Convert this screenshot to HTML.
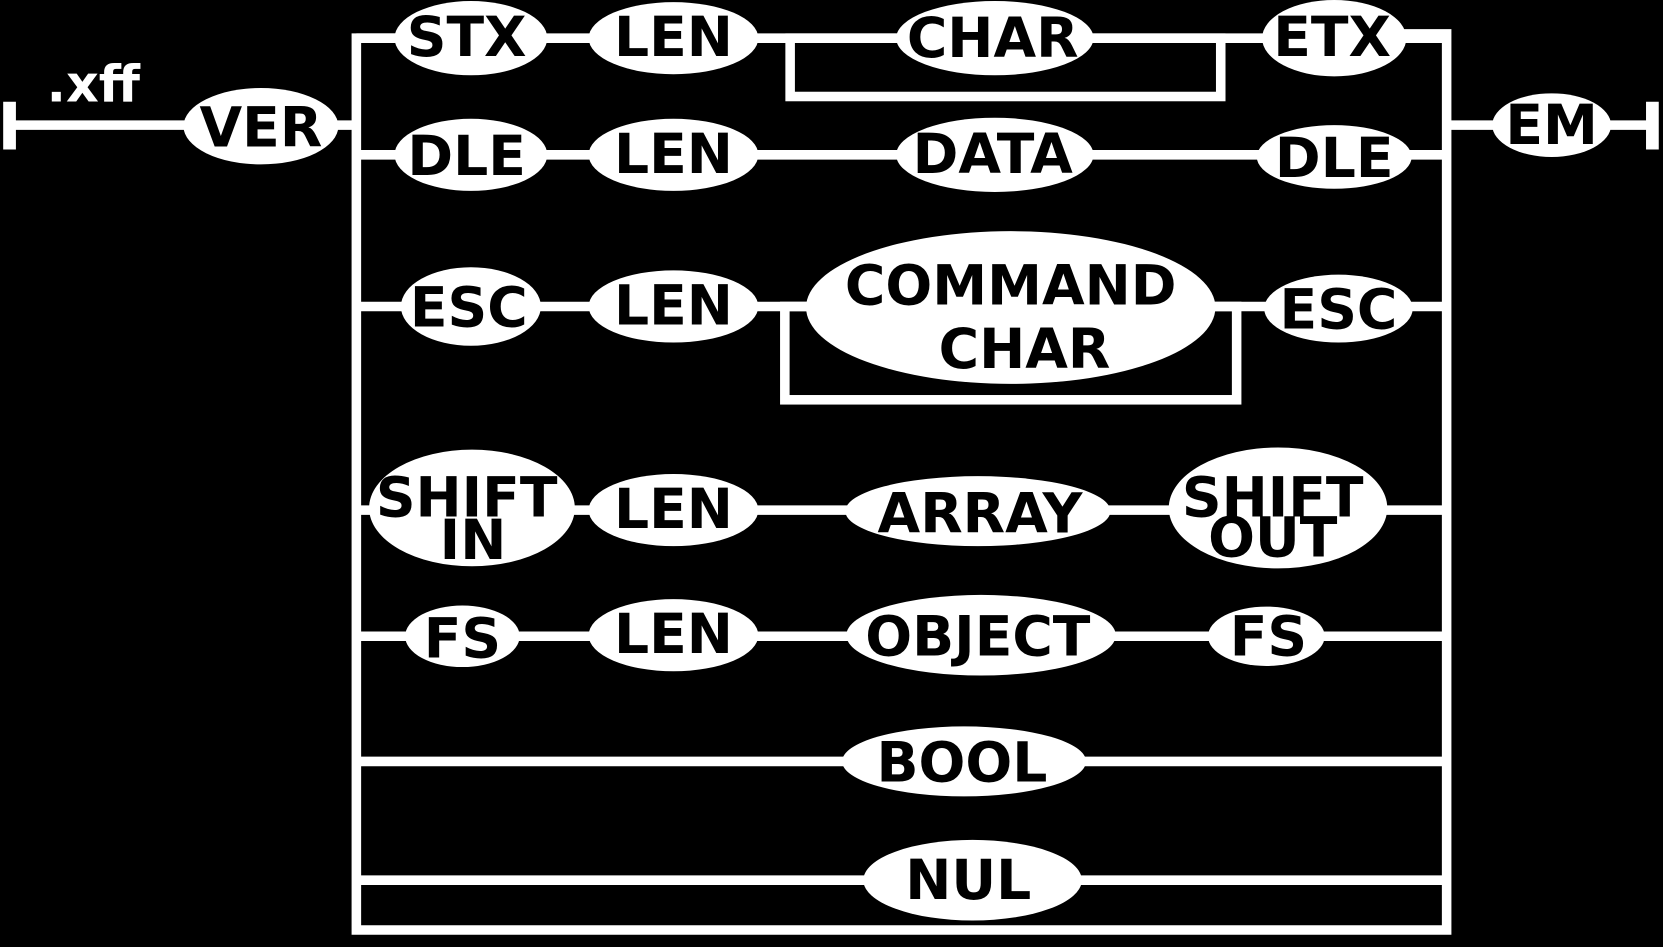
<!DOCTYPE html>
<html><head><meta charset="utf-8"><style>
html,body{margin:0;padding:0;background:#000;width:1663px;height:947px;overflow:hidden}
svg{display:block}
text{font-family:"DejaVu Sans","Liberation Sans",sans-serif;font-weight:bold;fill:#000;text-anchor:middle;dominant-baseline:central}
</style></head><body>
<svg width="1663" height="947" viewBox="0 0 1568 893" preserveAspectRatio="none" xmlns="http://www.w3.org/2000/svg">
<rect width="1568" height="893" fill="#000"/>
<g stroke="#fff" stroke-width="9" fill="none">
<line x1="9" y1="96" x2="9" y2="141" stroke-width="12"/>
<line x1="1558" y1="96" x2="1558" y2="141" stroke-width="12"/>
<line x1="9" y1="118" x2="336" y2="118"/>
<line x1="1364" y1="118" x2="1558" y2="118"/>
<polyline points="380,36 336,36 336,877 1364,877 1364,32 1320,32"/>
<line x1="336" y1="36" x2="1364" y2="36"/>
<rect x="745" y="36" width="406" height="55"/>
<line x1="336" y1="146" x2="1364" y2="146"/>
<line x1="336" y1="289" x2="1364" y2="289"/>
<rect x="740" y="289" width="426" height="88"/>
<line x1="336" y1="481" x2="1364" y2="481"/>
<line x1="336" y1="600" x2="1364" y2="600"/>
<line x1="336" y1="718" x2="1364" y2="718"/>
<line x1="336" y1="830" x2="1364" y2="830"/>
</g>
<g fill="#fff">
<ellipse cx="246" cy="119" rx="73" ry="36"/>
<ellipse cx="1463" cy="118" rx="56" ry="30"/>
<ellipse cx="444" cy="36" rx="72" ry="35"/>
<ellipse cx="635" cy="36" rx="80" ry="34"/>
<ellipse cx="938" cy="36" rx="93" ry="35"/>
<ellipse cx="1258" cy="36" rx="68" ry="36"/>
<ellipse cx="444" cy="146" rx="72" ry="34"/>
<ellipse cx="635" cy="146" rx="80" ry="34"/>
<ellipse cx="938" cy="146" rx="93" ry="35"/>
<ellipse cx="1258" cy="148" rx="73" ry="30"/>
<ellipse cx="444" cy="289" rx="66" ry="37"/>
<ellipse cx="635" cy="289" rx="80" ry="34"/>
<ellipse cx="953" cy="290" rx="193" ry="72"/>
<ellipse cx="1262" cy="291" rx="70" ry="32"/>
<ellipse cx="445" cy="479" rx="97" ry="55"/>
<ellipse cx="635" cy="481" rx="80" ry="34"/>
<ellipse cx="922" cy="482" rx="125" ry="33"/>
<ellipse cx="1205" cy="479" rx="103" ry="57"/>
<ellipse cx="436" cy="600" rx="54" ry="29"/>
<ellipse cx="635" cy="599" rx="80" ry="34"/>
<ellipse cx="925" cy="599" rx="127" ry="38"/>
<ellipse cx="1194" cy="600" rx="55" ry="28"/>
<ellipse cx="909" cy="718" rx="115" ry="33"/>
<ellipse cx="917" cy="830" rx="103" ry="38"/>
</g>
<text x="88" y="80" style="fill:#fff;font-size:48px">.xff</text>
<g style="font-size:52px">
<text x="246" y="121">VER</text>
<text x="1463" y="119">EM</text>
<text x="440" y="36">STX</text>
<text x="635" y="36">LEN</text>
<text x="936" y="37">CHAR</text>
<text x="1256" y="36">ETX</text>
<text x="440" y="148">DLE</text>
<text x="635" y="146">LEN</text>
<text x="936" y="146">DATA</text>
<text x="1258" y="150">DLE</text>
<text x="442" y="291">ESC</text>
<text x="635" y="289">LEN</text>
<text x="953" y="270">COMMAND</text>
<text x="966" y="330">CHAR</text>
<text x="1262" y="293">ESC</text>
<text x="440" y="470">SHIFT</text>
<text x="446" y="510">IN</text>
<text x="635" y="481">LEN</text>
<text x="924" y="485">ARRAY</text>
<text x="1200" y="470">SHIFT</text>
<text x="1200" y="508">OUT</text>
<text x="436" y="603">FS</text>
<text x="635" y="599">LEN</text>
<text x="922" y="601">OBJECT</text>
<text x="1196" y="601">FS</text>
<text x="907" y="720">BOOL</text>
<text x="913" y="831">NUL</text>
</g>
</svg>
</body></html>
